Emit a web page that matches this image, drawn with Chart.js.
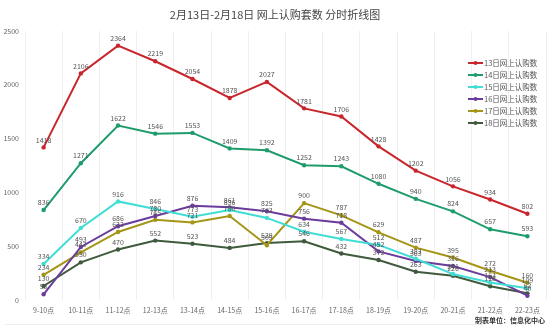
<!DOCTYPE html>
<html>
<head>
<meta charset="utf-8">
<script src="https://cdn.jsdelivr.net/npm/chart.js@4/dist/chart.umd.min.js"></script>
<style>
  html, body { margin: 0; padding: 0; background: #fff; }
  #wrap { position: relative; width: 550px; height: 335px; }
</style>
</head>
<body>
<div id="wrap"><canvas id="chart" width="550" height="335"></canvas></div>
<script>
const title = "2月13日-2月18日 网上认购套数 分时折线图";
const footer = "制表单位：信息化中心";

const hours = ["9-10点", "10-11点", "11-12点", "12-13点", "13-14点", "14-15点", "15-16点",
  "16-17点", "17-18点", "18-19点", "19-20点", "20-21点", "21-22点", "22-23点"];
const yTicks = [0, 500, 1000, 1500, 2000, 2500];

const names = ["13日网上认购数", "14日网上认购数", "15日网上认购数", "16日网上认购数", "17日网上认购数", "18日网上认购数"];
const colors = ["#c8262c", "#1f9c6b", "#40ddd5", "#6b3c9c", "#a59516", "#3f5a3c"];

const day13 = [1418, 2106, 2364, 2219, 2054, 1878, 2027, 1781, 1706, 1428, 1202, 1056, 934, 802];
const day14 = [836, 1271, 1622, 1546, 1553, 1409, 1392, 1252, 1243, 1080, 940, 824, 657, 593];
const day15 = [334, 670, 916, 846, 773, 836, 763, 634, 567, 512, 383, 241, 163, 109];
const day16 = [53, 493, 686, 780, 876, 861, 825, 756, 718, 452, 363, 316, 213, 40];
const day17 = [234, 443, 632, 745, 721, 780, 509, 900, 787, 629, 487, 395, 272, 160];
const day18 = [130, 350, 470, 552, 523, 484, 529, 546, 432, 372, 263, 226, 128, 62];

const series = [day13, day14, day15, day16, day17, day18];
const font = "'Noto Sans CJK SC', 'Noto Sans', sans-serif";

// value labels, legend box, title and footer
const extras = {
  id: "extras",
  afterDatasetsDraw(chart) {
    const ctx = chart.ctx;
    ctx.save();
    ctx.font = "7px " + font;
    ctx.fillStyle = "#555";
    ctx.textAlign = "center";
    ctx.textBaseline = "bottom";
    chart.data.datasets.forEach((ds, i) => {
      chart.getDatasetMeta(i).data.forEach((pt, j) => {
        ctx.fillText(ds.data[j], pt.x, pt.y - 4);
      });
    });
    ctx.restore();
  },
  afterDraw(chart) {
    const ctx = chart.ctx;
    ctx.save();
    // title
    ctx.font = "11px " + font;
    ctx.fillStyle = "#444";
    ctx.textAlign = "center";
    ctx.textBaseline = "middle";
    ctx.fillText(title, 275, 15);
    // legend
    ctx.font = "7.5px " + font;
    ctx.textAlign = "left";
    names.forEach((n, i) => {
      const y = 63 + i * 12;
      ctx.strokeStyle = colors[i];
      ctx.lineWidth = 2;
      ctx.beginPath();
      ctx.moveTo(468, y);
      ctx.lineTo(483, y);
      ctx.stroke();
      ctx.fillStyle = colors[i];
      ctx.beginPath();
      ctx.arc(475.5, y, 2, 0, Math.PI * 2);
      ctx.fill();
      ctx.fillStyle = "#555";
      ctx.fillText(n, 484, y);
    });
    // footer
    ctx.font = "bold 7px " + font;
    ctx.fillStyle = "#333";
    ctx.textAlign = "right";
    ctx.fillText(footer, 545, 320);
    ctx.strokeStyle = "#eeeeee";
    ctx.lineWidth = 1;
    ctx.beginPath();
    ctx.moveTo(5, 324.5);
    ctx.lineTo(485, 324.5);
    ctx.stroke();
    ctx.restore();
  }
};

new Chart(document.getElementById("chart").getContext("2d"), {
  type: "line",
  data: {
    labels: hours,
    datasets: series.map((d, i) => ({
      label: names[i],
      data: d,
      borderColor: colors[i],
      backgroundColor: colors[i],
      borderWidth: 2,
      pointRadius: 2.2,
      pointBackgroundColor: colors[i],
      pointBorderWidth: 0,
      tension: 0,
      fill: false
    }))
  },
  options: {
    responsive: false,
    animation: false,
    layout: { padding: { top: 31, left: 0, right: 2, bottom: 0 } },
    plugins: {
      legend: { display: false },
      title: { display: false },
      tooltip: { enabled: false }
    },
    scales: {
      x: {
        offset: true,
        grid: { display: true, offset: true, color: "#efefef", drawTicks: false },
        border: { display: false },
        ticks: { font: { size: 7, family: font }, color: "#666", maxRotation: 0, autoSkip: false, padding: 6 },
        afterFit(scale) { scale.height = 35; }
      },
      y: {
        min: 0,
        max: 2500,
        afterBuildTicks(scale) { scale.ticks = yTicks.map(v => ({ value: v })); },
        grid: { display: false, drawTicks: false },
        border: { display: false },
        ticks: { font: { size: 7, family: font }, color: "#666", padding: 6, callback: v => String(v) },
        afterFit(scale) { scale.width = 25; }
      }
    }
  },
  plugins: [extras]
});
</script>
</body>
</html>
